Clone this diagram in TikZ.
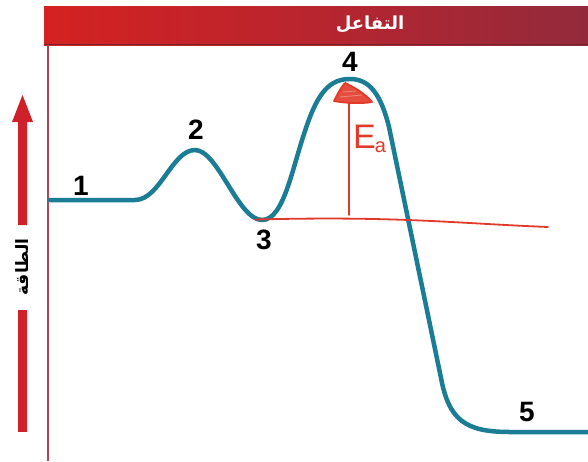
\documentclass[tikz,border=0pt]{standalone}
\usepackage{fontspec}
\setmainfont{Liberation Sans}
\newfontfamily\arabicfont[Script=Arabic]{DejaVu Sans}
\TeXXeTstate=1
\definecolor{barL}{HTML}{D42221}
\definecolor{barM}{HTML}{B8252F}
\definecolor{barR}{HTML}{922A3B}
\definecolor{axisc}{HTML}{A84858}
\definecolor{curvec}{HTML}{1B7C96}
\definecolor{arrowc}{HTML}{D0212B}
\definecolor{inkc}{HTML}{E23A2A}
\tikzset{
  curvestyle/.style={draw=curvec,line width=4.5pt,line cap=round,line join=round},
  numlabel/.style={font=\fontsize{28}{28}\selectfont\bfseries,text=black,inner sep=0pt},
  ink/.style={draw=inkc,line width=1.8pt,line cap=round,line join=round},
}
\begin{document}
\begin{tikzpicture}[x=1pt,y=-1pt]
\useasboundingbox (0,0) rectangle (588,461);
\fill[white] (0,0) rectangle (588,461);
% header bar
\shade[left color=barL,right color=barR,middle color=barM] (44,6) rectangle (588,45);
\draw[barR!80!black,line width=1.2pt] (44,44.5) -- (588,44.5);
\node[font=\arabicfont\bfseries\fontsize{18}{18}\selectfont,text=white] (title) at (370,24) {\beginR التفاعل\endR};
% axis line
\draw[axisc,line width=2pt] (48,45) -- (48,461);
% energy arrow
\fill[arrowc] (18,225) -- (18,122) -- (12,122) -- (22.5,95) -- (33,122) -- (27,122) -- (27,225) -- cycle;
\fill[arrowc] (18,310) rectangle (27,432);
\node[rotate=90,font=\arabicfont\bfseries\fontsize{17}{17}\selectfont] (energy) at (22.5,267) {\beginR الطاقة\endR};
% reaction curve
\draw[curvestyle] (50,200) -- (135,200)
  .. controls (160,200) and (172,150) .. (195,150)
  .. controls (218,150) and (238,220) .. (262,220)
  .. controls (284,220) and (292,168) .. (306,128)
  .. controls (318,92) and (330,79) .. (350,79)
  .. controls (370,79) and (381,95) .. (389,127)
  -- (441,378)
  .. controls (449,420) and (465,432) .. (510,432) -- (588,432);
% labels
\node[numlabel] (n1) at (81,186) {1};
\node[numlabel] (n2) at (196,130) {2};
\node[numlabel] (n3) at (264,240) {3};
\node[numlabel] (n4) at (350,62) {4};
\node[numlabel] (n5) at (527,412) {5};
% hand-drawn annotations
\draw[ink] (255,219.5) .. controls (400,216) and (450,223) .. (548,227);
\draw[ink] (349,215) -- (349,92);
\filldraw[ink,fill=inkc!90] (334,101) .. controls (338,93) and (342,86) .. (345,83) .. controls (352,86) and (366,94) .. (372,102) .. controls (360,104) and (345,103) .. cycle;
\draw[draw=inkc!60!white,line width=0.8pt] (340,97) -- (362,95) (343,92) -- (356,91);
\node[text=inkc,font=\fontsize{34}{34}\selectfont,inner sep=0pt,anchor=base west] (ea) at (353,148) {E\kern-1pt\raisebox{-4pt}{\fontsize{20}{20}\selectfont a}};
\end{tikzpicture}
\end{document}
